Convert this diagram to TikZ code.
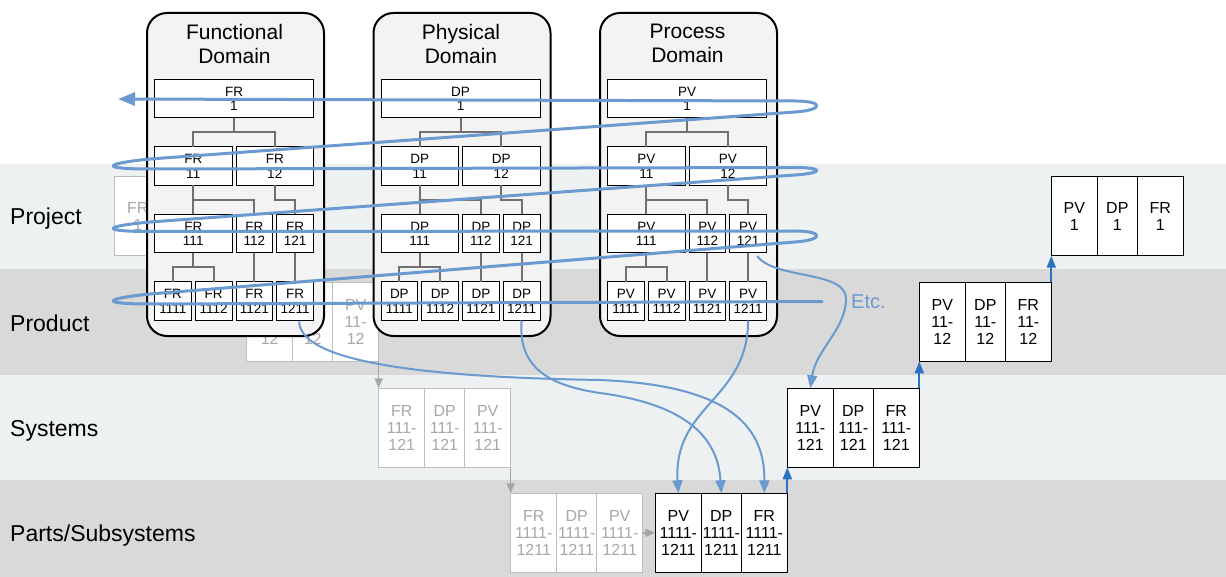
\documentclass[tikz,border=0pt]{standalone}
\usepackage{fontspec}
\setmainfont{Liberation Sans}
\usetikzlibrary{arrows.meta,calc}

\definecolor{bandlight}{HTML}{EDF1F2}
\definecolor{banddark}{HTML}{D9D9D9}
\definecolor{panelfill}{HTML}{F3F3F3}
\definecolor{fadeline}{HTML}{BDBDBD}
\definecolor{fadetext}{HTML}{A8A8A8}
\definecolor{fadearrow}{HTML}{A6A6A6}
\definecolor{treeline}{HTML}{707070}
\definecolor{spiralblue}{HTML}{6A9AD0}
\definecolor{stepblue}{HTML}{2B73C2}

\begin{document}
\begin{tikzpicture}[x=1pt,y=-1pt,
  sidelabel/.style={anchor=base west, inner sep=0pt, font=\fontsize{23}{27}\selectfont},
  panel/.style={draw=black, line width=2pt, fill=panelfill, rounded corners=20pt,
    anchor=north west, inner sep=0pt, minimum width=177pt, minimum height=323pt},
  paneltitle/.style={align=center, inner sep=0pt, font=\fontsize{21}{24}\selectfont},
  dbox/.style={draw=black, line width=1pt, fill=white, inner sep=0pt, outer sep=0pt,
    minimum height=38.5pt, align=center, anchor=north west,
    font=\fontsize{13.5}{14.5}\selectfont},
  tree/.style={draw=treeline, line width=2pt},
  cellbox/.style={draw=black, line width=1.2pt, fill=white, inner sep=0pt, outer sep=0pt,
    minimum height=79pt, align=center, anchor=north west,
    font=\fontsize{16}{17}\selectfont},
  fadebox/.style={cellbox, draw=fadeline, text=fadetext},
  wide/.style={minimum width=46pt},
  narrow/.style={minimum width=40pt},
  fadeflow/.style={draw=fadearrow, line width=1.5pt, -{Triangle[length=10pt,width=8pt]}},
  stepup/.style={draw=stepblue, line width=2pt, -{Triangle[length=12pt,width=9pt]}},
  flow/.style={draw=spiralblue, line width=2pt, -{Triangle[length=13pt,width=10pt]}},
  spiral/.style={draw=spiralblue, line width=3pt, line cap=round, line join=round,
    -{Triangle[length=17pt,width=13pt]}}
]
\useasboundingbox (0,0) rectangle (1226,577);

% level bands
\fill[white] (0,0) rectangle (1226,164);
\fill[bandlight] (0,164) rectangle (1226,269);
\fill[banddark] (0,269) rectangle (1226,375);
\fill[bandlight] (0,375) rectangle (1226,480);
\fill[banddark] (0,480) rectangle (1226,577);

\node[sidelabel] (lproject) at (10,225) {Project};
\node[sidelabel] (lproduct) at (10,331.5) {Product};
\node[sidelabel] (lsystems) at (10,436.5) {Systems};
\node[sidelabel] (lparts) at (10,541.5) {Parts/Subsystems};

% earlier (faded) integration steps
\node[fadebox,wide]   (fpj1) at (114.7,176.7) {FR\\1};
\node[fadebox,narrow] (fpj2) at (fpj1.north east) {DP\\1};
\node[fadebox,wide]   (fpj3) at (fpj2.north east) {PV\\1};

\node[fadebox,wide]   (fpr1) at (246.7,282.3) {FR\\11-\\12};
\node[fadebox,narrow] (fpr2) at (fpr1.north east) {DP\\11-\\12};
\node[fadebox,wide]   (fpr3) at (fpr2.north east) {PV\\11-\\12};

\node[fadebox,wide]   (fsy1) at (378.7,388.3) {FR\\111-\\121};
\node[fadebox,narrow] (fsy2) at (fsy1.north east) {DP\\111-\\121};
\node[fadebox,wide]   (fsy3) at (fsy2.north east) {PV\\111-\\121};

\node[fadebox,wide]   (fpt1) at (510.7,493.3) {FR\\1111-\\1211};
\node[fadebox,narrow] (fpt2) at (fpt1.north east) {DP\\1111-\\1211};
\node[fadebox,wide]   (fpt3) at (fpt2.north east) {PV\\1111-\\1211};

% integrated steps
\node[cellbox,wide]   (pt1) at (655.3,493.3) {PV\\1111-\\1211};
\node[cellbox,narrow] (pt2) at (pt1.north east) {DP\\1111-\\1211};
\node[cellbox,wide]   (pt3) at (pt2.north east) {FR\\1111-\\1211};

\node[cellbox,wide]   (sy1) at (787.3,388.3) {PV\\111-\\121};
\node[cellbox,narrow] (sy2) at (sy1.north east) {DP\\111-\\121};
\node[cellbox,wide]   (sy3) at (sy2.north east) {FR\\111-\\121};

\node[cellbox,wide]   (pr1) at (919.3,282.3) {PV\\11-\\12};
\node[cellbox,narrow] (pr2) at (pr1.north east) {DP\\11-\\12};
\node[cellbox,wide]   (pr3) at (pr2.north east) {FR\\11-\\12};

\node[cellbox,wide]   (pj1) at (1051.3,176.7) {PV\\1};
\node[cellbox,narrow] (pj2) at (pj1.north east) {DP\\1};
\node[cellbox,wide]   (pj3) at (pj2.north east) {FR\\1};

\draw[fadeflow] (fpr3.south east) -- (fsy1.north west);
\draw[fadeflow] (fsy3.south east) -- (fpt1.north west);
\draw[fadeflow] (fpt3.east) -- (pt1.west);

\draw[stepup] (pt3.north east) -- (sy1.south west);
\draw[stepup] (sy3.north east) -- (pr1.south west);
\draw[stepup] (pr3.north east) -- (pj1.south west);

% the three domain hierarchies
\foreach \pre/\off/\lab/\ttl in {f/0/FR/Functional, d/226.5/DP/Physical, p/453/PV/Process}{
  \begin{scope}[xshift=\off pt]
    \node[panel] (\pre-panel) at (146,12) {};
    \node[paneltitle] (\pre-title) at (234.5,43.7) {\ttl\\Domain};
    \node[dbox, minimum width=159pt]   (\pre1)    at (154.5,79.5) {\lab\\1};
    \node[dbox, minimum width=77.5pt]  (\pre11)   at (154.5,147) {\lab\\11};
    \node[dbox, minimum width=77.5pt]  (\pre12)   at (236,147) {\lab\\12};
    \node[dbox, minimum width=77.5pt]  (\pre111)  at (154.5,214.5) {\lab\\111};
    \node[dbox, minimum width=36.75pt] (\pre112)  at (236,214.5) {\lab\\112};
    \node[dbox, minimum width=36.75pt] (\pre121)  at (276.75,214.5) {\lab\\121};
    \node[dbox, minimum width=36.75pt] (\pre1111) at (154.5,282) {\lab\\1111};
    \node[dbox, minimum width=36.75pt] (\pre1112) at (195.25,282) {\lab\\1112};
    \node[dbox, minimum width=36.75pt] (\pre1121) at (236,282) {\lab\\1121};
    \node[dbox, minimum width=36.75pt] (\pre1211) at (276.75,282) {\lab\\1211};
    \draw[tree] (\pre1.south) -- ++(0,14.5) -| (\pre11.north);
    \draw[tree] (\pre1.south) -- ++(0,14.5) -| (\pre12.north);
    \draw[tree] (\pre11.south) -- ++(0,14.5) -| (\pre111.north);
    \draw[tree] (\pre11.south) -- ++(0,14.5) -| (\pre112.north);
    \draw[tree] (\pre12.south) -- ++(0,14.5) -| (\pre121.north);
    \draw[tree] (\pre111.south) -- ++(0,14.5) -| (\pre1111.north);
    \draw[tree] (\pre111.south) -- ++(0,14.5) -| (\pre1112.north);
    \draw[tree] (\pre112.south) -- (\pre1121.north);
    \draw[tree] (\pre121.south) -- (\pre1211.north);
  \end{scope}
}

% zigzagging through the hierarchies
\draw[spiral] (822,301.5) -- (150,304)
  .. controls (101,304) and (101,299) .. (150,294) -- (795,242)
  .. controls (824,240) and (824,231) .. (795,231) -- (150,231.5)
  .. controls (101,231.5) and (101,226.5) .. (150,222) -- (795,175)
  .. controls (824,173) and (824,167.5) .. (795,167.5) -- (150,169)
  .. controls (101,169) and (101,164) .. (150,159) -- (795,112)
  .. controls (824,110) and (824,101) .. (795,101) -- (118,99);

\node[anchor=west, inner sep=0pt, text=spiralblue, font=\fontsize{20}{24}\selectfont] (etc) at (851,302) {Etc.};

% leaf elements gathered at the parts level
\draw[flow] ($(f1211.south)+(4,1)$) .. controls (300,370) and (480,378) .. (600,380)
  .. controls (720,385) and (765,420) .. (pt3.north);
\draw[flow] (d1211.south) .. controls (518,365) and (545,385) .. (600,393)
  .. controls (690,405) and (718,440) .. (pt2.north);
\draw[flow] (p1211.south) .. controls (748,400) and (673,405) .. (pt1.north);
\draw[flow] ($(p121.south)+(9,3)$) .. controls (775,280) and (848,270) .. (846,300)
  .. controls (845,330) and (816,350) .. (sy1.north);
\end{tikzpicture}
\end{document}
